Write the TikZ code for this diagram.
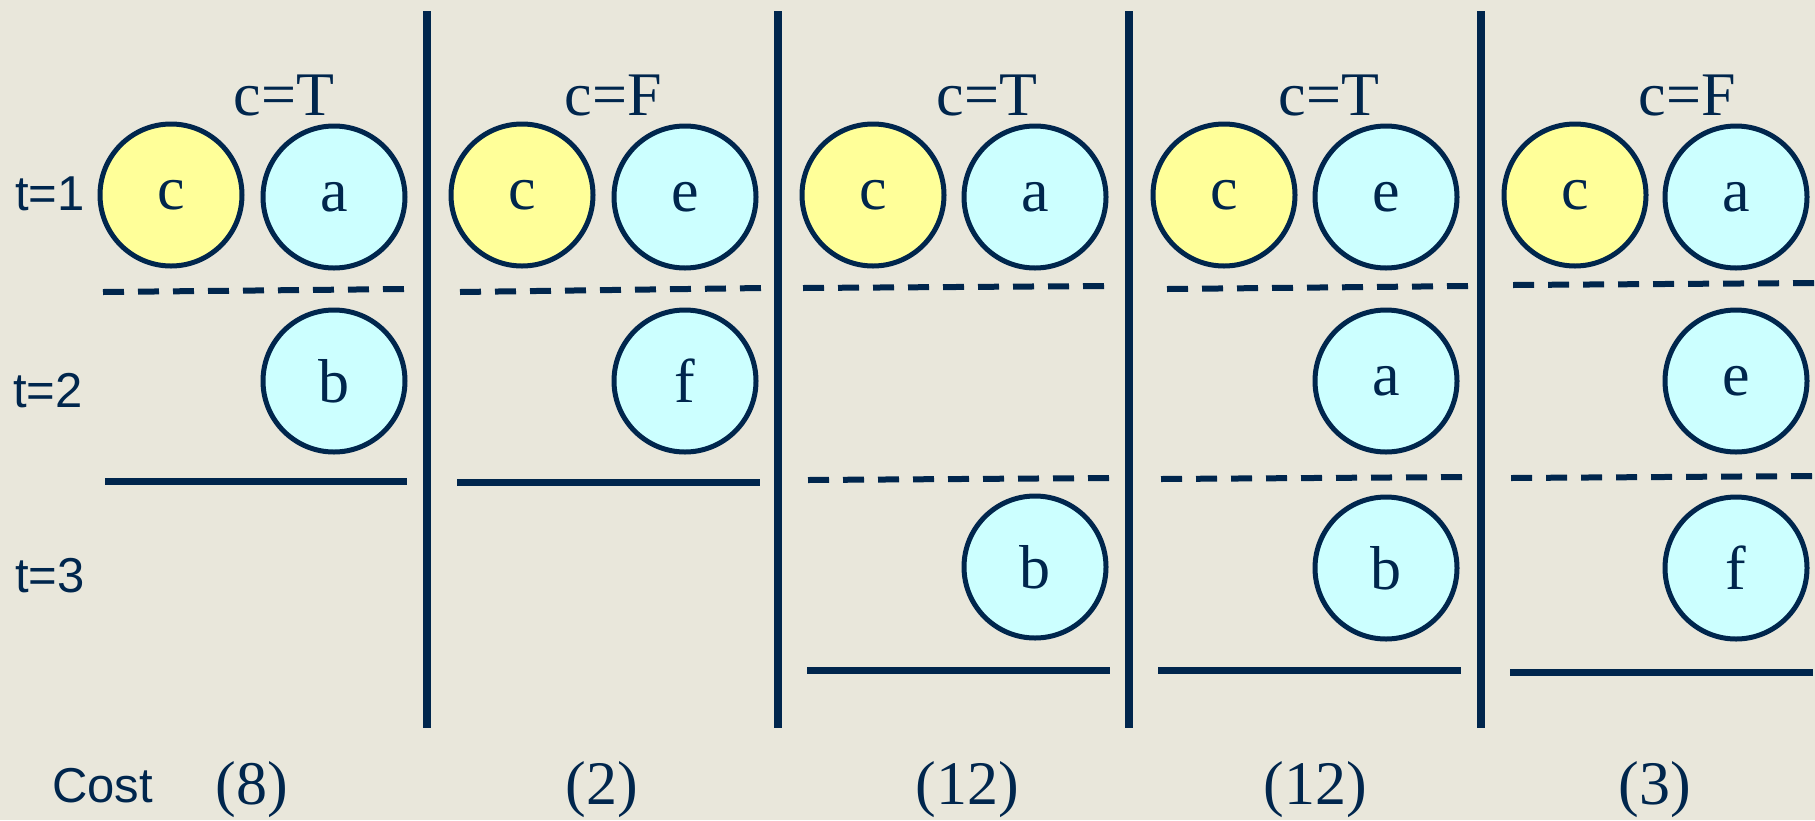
\documentclass[tikz,border=0pt]{standalone}
\usepackage{fontspec}
\setmainfont{Liberation Serif}
\setsansfont{Liberation Sans}
\definecolor{bg}{RGB}{233,231,219}
\definecolor{navy}{RGB}{0,38,77}
\definecolor{cy}{RGB}{204,255,255}
\definecolor{ye}{RGB}{255,255,153}
\begin{document}
\begin{tikzpicture}[x=1pt,y=-1pt,
  ball/.style={circle,draw=navy,line width=5pt,minimum size=142pt,inner sep=0pt,
    text=navy,font=\fontsize{62}{62}\selectfont},
  yb/.style={ball,fill=ye},
  cb/.style={ball,fill=cy},
  lbl/.style={text=navy,inner sep=0pt,font=\fontsize{62}{62}\selectfont},
  slbl/.style={text=navy,inner sep=0pt,anchor=base west,font=\sffamily\fontsize{49}{49}\selectfont},
  divider/.style={draw=navy,line width=7.5pt},
  solidsep/.style={draw=navy,line width=7pt},
  dashsep/.style={draw=navy,line width=6pt,dash pattern=on 21pt off 14pt}]
\fill[bg] (0,0) rectangle (1815,820);
\useasboundingbox (0,0) rectangle (1815,820);

% row labels
\node[slbl] (t1) at (15,210) {t=1};
\node[slbl] (t2) at (13,407) {t=2};
\node[slbl] (t3) at (15,592) {t=3};
\node[slbl] (cost) at (52,802) {Cost};

% vertical dividers
\foreach \x [count=\i] in {427,778,1129,1481}
  \draw[divider] (\x,11) -- (\x,728);

% headers
\foreach \x/\t [count=\i] in {284/T,613/F,987/T,1329/T,1687/F}
  \node[lbl,anchor=base] (h\i) at (\x,115) {c=\t};

% costs
\foreach \x/\t [count=\i] in {252/8,602/2,967/12,1315/12,1655/3}
  \node[lbl,anchor=base] (k\i) at (\x,804) {(\t)};

% panel 1
\node[yb] (p1c) at (171,195) {c};
\node[cb] (p1a) at (334,197) {a};
\node[cb] (p1b) at (334,381) {b};
\draw[dashsep] (103,292) -- (406,289);
\draw[solidsep] (105,481) -- (407,481);

% panel 2
\node[yb] (p2c) at (522,195) {c};
\node[cb] (p2e) at (685,197) {e};
\node[cb] (p2f) at (685,381) {f};
\draw[dashsep] (460,292) -- (763,288);
\draw[solidsep] (457,482) -- (760,482);

% panel 3
\node[yb] (p3c) at (873,195) {c};
\node[cb] (p3a) at (1035,197) {a};
\node[cb] (p3b) at (1035,567) {b};
\draw[dashsep] (803,288) -- (1107,286);
\draw[dashsep] (808,480) -- (1112,478);
\draw[solidsep] (807,670) -- (1110,670);

% panel 4
\node[yb] (p4c) at (1224,195) {c};
\node[cb] (p4e) at (1386,197) {e};
\node[cb] (p4a) at (1386,381) {a};
\node[cb] (p4b) at (1386,568) {b};
\draw[dashsep] (1167,289) -- (1471,286);
\draw[dashsep] (1161,479) -- (1464,477);
\draw[solidsep] (1158,670) -- (1461,670);

% panel 5
\node[yb] (p5c) at (1575,195) {c};
\node[cb] (p5a) at (1736,197) {a};
\node[cb] (p5e) at (1736,381) {e};
\node[cb] (p5f) at (1736,568) {f};
\draw[dashsep] (1513,285) -- (1815,283);
\draw[dashsep] (1511,478) -- (1815,476);
\draw[solidsep] (1510,672) -- (1813,672);
\end{tikzpicture}
\end{document}
